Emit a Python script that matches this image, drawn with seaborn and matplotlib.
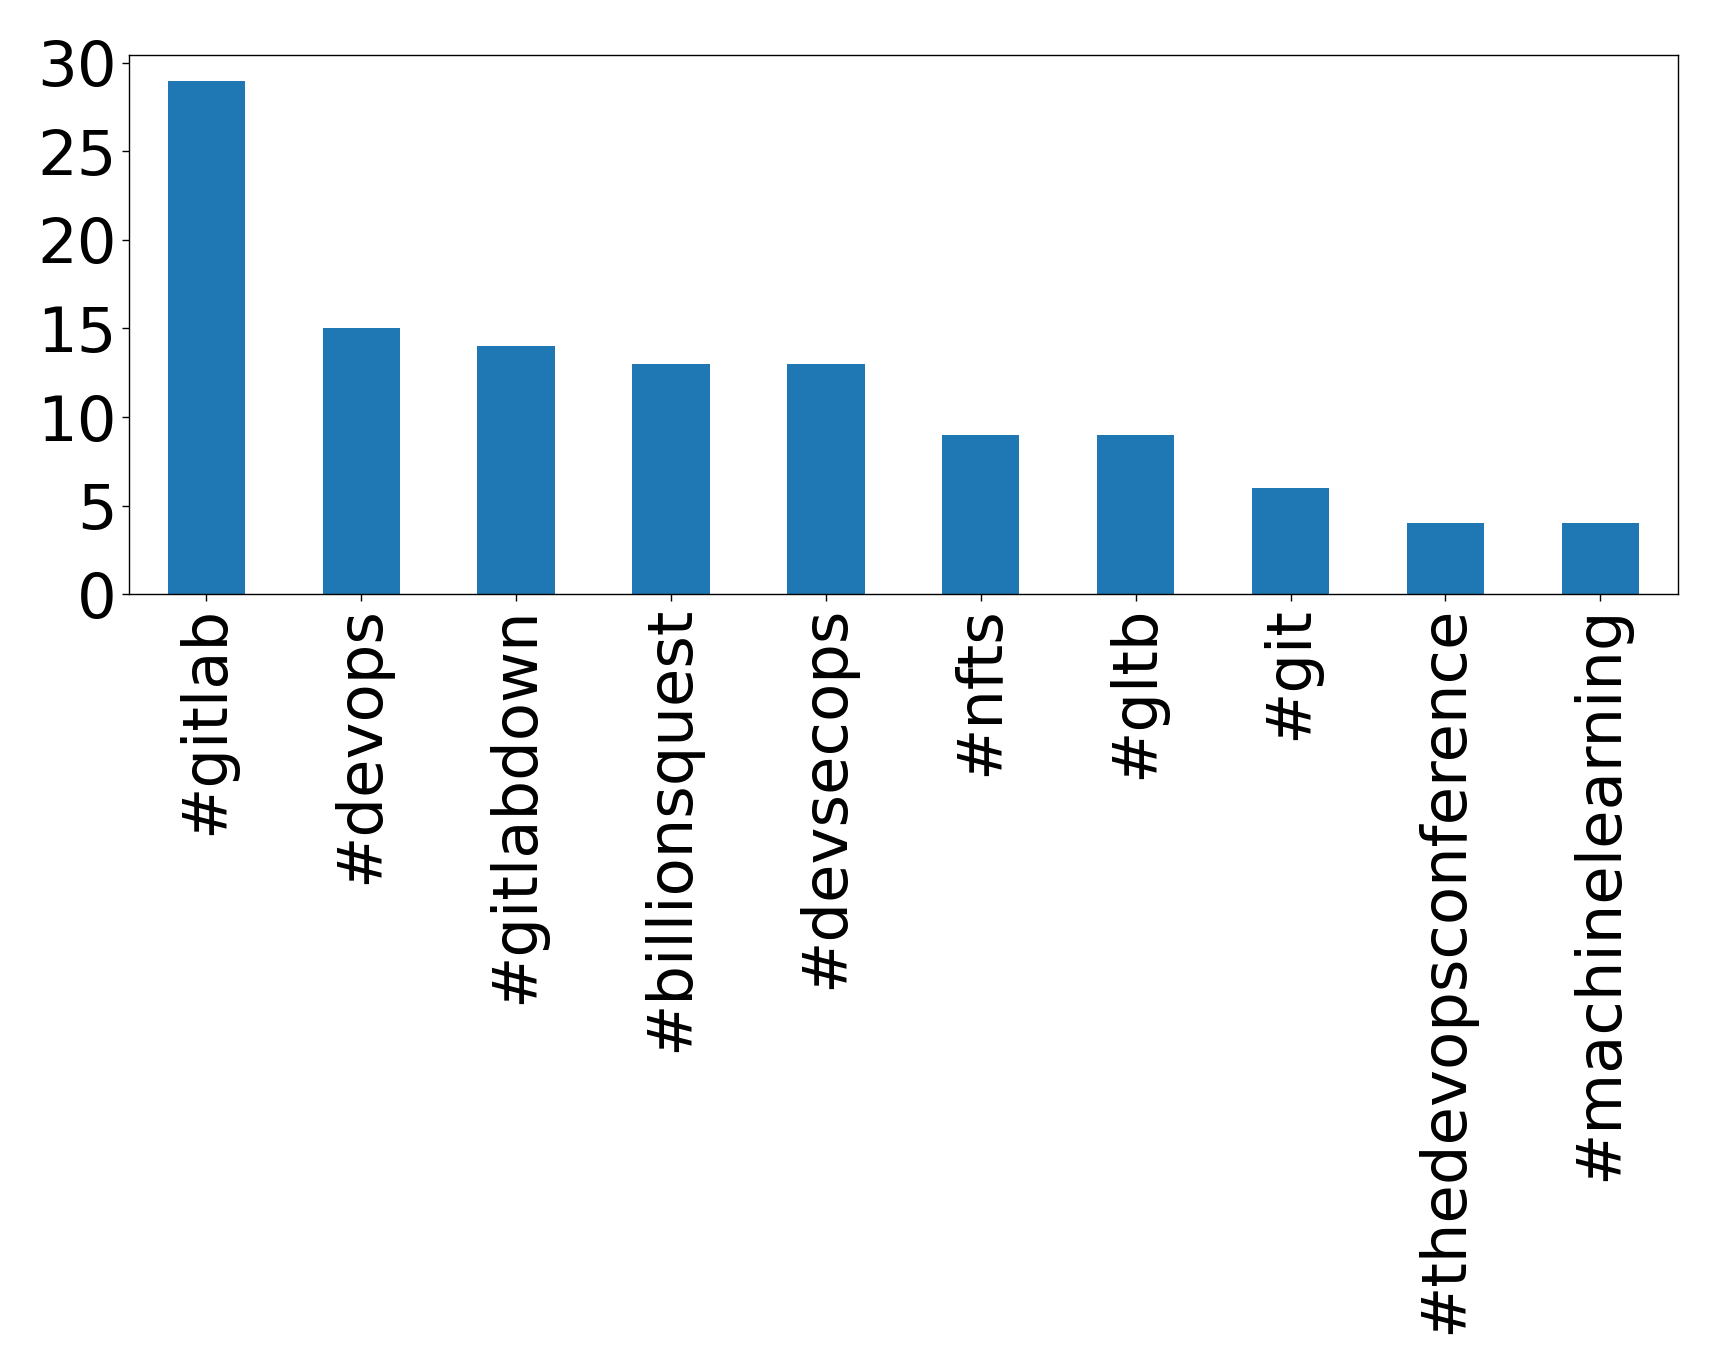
import matplotlib
matplotlib.use("Agg")
import matplotlib.pyplot as plt
import seaborn as sns
import pandas as pd

# hashtags et nombre d'occurrences
hashtags = ["#gitlab", "#devops", "#gitlabdown", "#billionsquest", "#devsecops",
            "#nfts", "#gltb", "#git", "#thedevopsconference", "#machinelearning"]
counts = [29, 15, 14, 13, 13, 9, 9, 6, 4, 4]

df = pd.DataFrame({"hashtag": hashtags, "count": counts})

sns.set_style("white")
plt.rcParams["font.family"] = ["DejaVu Sans"]

fig = plt.figure(figsize=(17.19, 13.72), dpi=100)
ax = fig.add_axes([0.075, 0.567, 0.901, 0.393])

sns.barplot(data=df, x="hashtag", y="count", color="#1f77b4", saturation=1,
            width=0.5, linewidth=0, ax=ax)

ax.set_xlim(-0.5, len(hashtags) - 0.5)
ax.set_ylim(0, 30.45)
ax.set_yticks(range(0, 31, 5))
ax.set_xlabel("")
ax.set_ylabel("")
ax.tick_params(axis="both", labelsize=45, length=5, width=1, direction="out",
               bottom=True, left=True, colors="black", labelcolor="black")
plt.setp(ax.get_xticklabels(), rotation=90)
for s in ax.spines.values():
    s.set_visible(True)
    s.set_color("black")
    s.set_linewidth(1)

fig.savefig("out.png", dpi=100)
